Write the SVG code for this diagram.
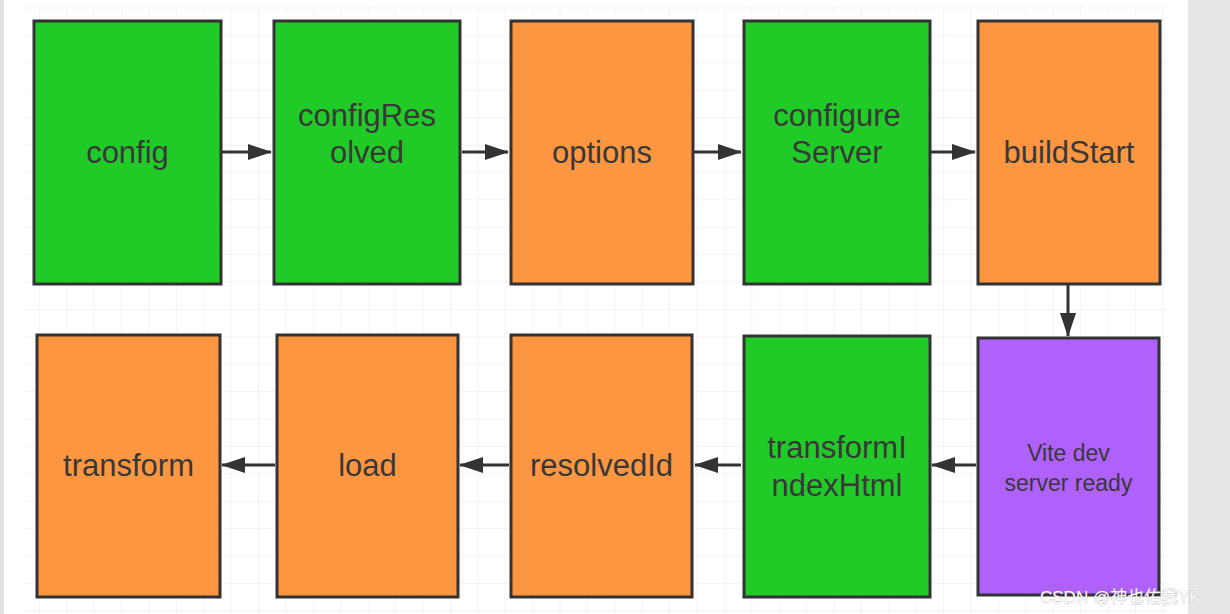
<svg xmlns="http://www.w3.org/2000/svg" width="1230" height="614" viewBox="0 0 1230 614">
<defs>
<pattern id="grid" x="12.5" y="8.5" width="27.4" height="27.4" patternUnits="userSpaceOnUse">
<path d="M27.4 0V27.4M0 27.4H27.4" fill="none" stroke="#e8e8e8" stroke-width="1"/>
</pattern>
<marker id="ah" viewBox="0 0 24 16" refX="23" refY="8" markerWidth="24" markerHeight="16" markerUnits="userSpaceOnUse" orient="auto">
<path d="M0 0L24 8L0 16Z" fill="#333"/>
</marker>
</defs>
<style>
.n{stroke:#333;stroke-width:3}
.g{fill:#21cb27}
.o{fill:#fd9640}
.p{fill:#b061fb}
.t{font-family:"Liberation Sans",Arial,sans-serif;font-size:31px;fill:#383838;text-anchor:middle}
.s{font-size:23px}
.c{fill:none;stroke:#333;stroke-width:3}
</style>
<rect width="1230" height="614" fill="#fff"/>
<rect x="25" y="6" width="1142" height="608" fill="url(#grid)"/>
<rect x="0" y="0" width="4" height="614" fill="#e0e0e0"/>
<rect x="1188" y="0" width="42" height="614" fill="#e6e6e6"/>
<g id="connectors">
<line class="c" x1="222" y1="152" x2="271" y2="152" marker-end="url(#ah)"/>
<line class="c" x1="462" y1="152" x2="508" y2="152" marker-end="url(#ah)"/>
<line class="c" x1="694" y1="152" x2="741" y2="152" marker-end="url(#ah)"/>
<line class="c" x1="931" y1="152" x2="975" y2="152" marker-end="url(#ah)"/>
<line class="c" x1="1068" y1="285" x2="1068" y2="336" marker-end="url(#ah)"/>
<line class="c" x1="976" y1="465" x2="932" y2="465" marker-end="url(#ah)"/>
<line class="c" x1="741" y1="465" x2="695" y2="465" marker-end="url(#ah)"/>
<line class="c" x1="509" y1="465" x2="460" y2="465" marker-end="url(#ah)"/>
<line class="c" x1="275" y1="465" x2="222" y2="465" marker-end="url(#ah)"/>
</g>
<g id="config"><rect class="n g" x="34" y="21" width="187" height="263"/><text class="t" x="127.5" y="163">config</text></g>
<g id="configResolved"><rect class="n g" x="274" y="21" width="186" height="263"/><text class="t" x="367" y="126">configRes</text><text class="t" x="367" y="163">olved</text></g>
<g id="options"><rect class="n o" x="511" y="21" width="182" height="263"/><text class="t" x="602" y="163">options</text></g>
<g id="configureServer"><rect class="n g" x="744" y="21" width="186" height="263"/><text class="t" x="837" y="126">configure</text><text class="t" x="837" y="163">Server</text></g>
<g id="buildStart"><rect class="n o" x="978" y="21" width="182" height="263"/><text class="t" x="1069" y="163">buildStart</text></g>
<g id="viteReady"><rect class="n p" x="978" y="338" width="181" height="257"/><text class="t s" x="1068.5" y="461">Vite dev</text><text class="t s" x="1068.5" y="491">server ready</text></g>
<g id="transformIndexHtml"><rect class="n g" x="744" y="336" width="186" height="261"/><text class="t" x="837" y="458">transformI</text><text class="t" x="837" y="496">ndexHtml</text></g>
<g id="resolvedId"><rect class="n o" x="511" y="335" width="181" height="262"/><text class="t" x="601.5" y="476">resolvedId</text></g>
<g id="load"><rect class="n o" x="277" y="335" width="181" height="262"/><text class="t" x="367.5" y="476">load</text></g>
<g id="transform"><rect class="n o" x="37" y="335" width="183" height="262"/><text class="t" x="128.5" y="476">transform</text></g>
<text x="1040" y="603" font-family="'Liberation Sans','Noto Sans CJK SC',sans-serif" font-size="17" fill="#fafafa" stroke="#9a9a9a" stroke-width="0.4" paint-order="stroke">CSDN @神也佑我YK</text>
</svg>
